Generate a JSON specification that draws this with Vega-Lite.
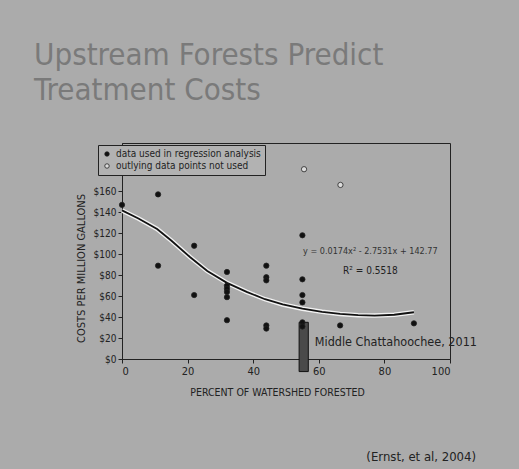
{
  "$schema": "https://vega.github.io/schema/vega-lite/v6.json",
  "autosize": {"type": "none"},
  "width": 328,
  "height": 216,
  "padding": {"left": 122, "top": 143, "right": 69, "bottom": 110},
  "background": "#ababab",
  "title": {
    "text": ["Upstream Forests Predict", "Treatment Costs"],
    "anchor": "start",
    "frame": "group",
    "font": "DejaVu Sans Condensed, Roboto, sans-serif",
    "fontSize": 31,
    "lineHeight": 35,
    "fontWeight": "normal",
    "color": "#7a7a7a",
    "dx": -88,
    "dy": 2,
    "offset": 38
  },
  "config": {
    "view": {"stroke": "#222", "strokeWidth": 1},
    "font": "DejaVu Sans Condensed, Roboto, sans-serif",
    "axis": {
      "grid": false,
      "domainColor": "#222",
      "tickColor": "#222",
      "tickSize": 4,
      "labelColor": "#222",
      "titleColor": "#222",
      "labelFont": "DejaVu Sans Condensed, Roboto, sans-serif",
      "titleFont": "DejaVu Sans Condensed, Roboto, sans-serif"
    },
    "legend": {
      "labelFont": "DejaVu Sans Condensed, Roboto, sans-serif"
    }
  },
  "datasets": {
    "points": [
      {"forested": 0, "cost": 147, "type": "data used in regression analysis"},
      {"forested": 11, "cost": 157, "type": "data used in regression analysis"},
      {"forested": 11, "cost": 89, "type": "data used in regression analysis"},
      {"forested": 22, "cost": 108, "type": "data used in regression analysis"},
      {"forested": 22, "cost": 61, "type": "data used in regression analysis"},
      {"forested": 32, "cost": 83, "type": "data used in regression analysis"},
      {"forested": 32, "cost": 70, "type": "data used in regression analysis"},
      {"forested": 32, "cost": 67, "type": "data used in regression analysis"},
      {"forested": 32, "cost": 64, "type": "data used in regression analysis"},
      {"forested": 32, "cost": 59, "type": "data used in regression analysis"},
      {"forested": 32, "cost": 37, "type": "data used in regression analysis"},
      {"forested": 44, "cost": 89, "type": "data used in regression analysis"},
      {"forested": 44, "cost": 78, "type": "data used in regression analysis"},
      {"forested": 44, "cost": 75, "type": "data used in regression analysis"},
      {"forested": 44, "cost": 32, "type": "data used in regression analysis"},
      {"forested": 44, "cost": 29, "type": "data used in regression analysis"},
      {"forested": 55, "cost": 118, "type": "data used in regression analysis"},
      {"forested": 55, "cost": 76, "type": "data used in regression analysis"},
      {"forested": 55, "cost": 61, "type": "data used in regression analysis"},
      {"forested": 55, "cost": 54, "type": "data used in regression analysis"},
      {"forested": 55, "cost": 35, "type": "data used in regression analysis"},
      {"forested": 55, "cost": 31, "type": "data used in regression analysis"},
      {"forested": 66.5, "cost": 32, "type": "data used in regression analysis"},
      {"forested": 89, "cost": 34, "type": "data used in regression analysis"},
      {"forested": 55.5, "cost": 181, "type": "outlying data points not used"},
      {"forested": 66.6, "cost": 166, "type": "outlying data points not used"}
    ],
    "curve": [
      {"forested": 0, "cost": 141.7},
      {"forested": 5, "cost": 134},
      {"forested": 10.7, "cost": 124},
      {"forested": 15, "cost": 113},
      {"forested": 20.8, "cost": 97},
      {"forested": 26, "cost": 84},
      {"forested": 32, "cost": 72.6},
      {"forested": 38, "cost": 64},
      {"forested": 43.6, "cost": 57},
      {"forested": 49, "cost": 52},
      {"forested": 55, "cost": 48},
      {"forested": 61, "cost": 45},
      {"forested": 66.5, "cost": 43},
      {"forested": 72, "cost": 41.8},
      {"forested": 77, "cost": 41.4},
      {"forested": 83, "cost": 42.2},
      {"forested": 89, "cost": 44.6}
    ],
    "bar": [
      {"from": 54, "to": 56.8, "low": -12, "high": 35}
    ],
    "notes": [
      {"kind": "site", "forested": 58.8, "cost": 12.4, "label": "Middle Chattahoochee, 2011"},
      {"kind": "eq", "forested": 55.2, "cost": 100, "label": "y = 0.0174x² - 2.7531x + 142.77"},
      {"kind": "r2", "forested": 67.4, "cost": 81, "label": "R² = 0.5518"},
      {"kind": "cite", "forested": 74.5, "cost": -97, "label": "(Ernst, et al, 2004)"}
    ]
  },
  "encoding": {
    "x": {
      "field": "forested",
      "type": "quantitative",
      "scale": {"domain": [0, 100], "nice": false},
      "axis": {
        "values": [0, 20, 40, 60, 80, 100],
        "title": "PERCENT OF WATERSHED FORESTED",
        "titleFontSize": 10.5,
        "titleFontWeight": "normal",
        "labelFontSize": 11,
        "titlePadding": 11,
        "titleX": 155
      }
    },
    "y": {
      "field": "cost",
      "type": "quantitative",
      "scale": {"domain": [0, 206], "nice": false},
      "axis": {
        "values": [0, 20, 40, 60, 80, 100, 120, 140, 160],
        "labelExpr": "'$' + datum.value",
        "title": "COSTS PER MILLION GALLONS",
        "titleFontSize": 11,
        "titleFontWeight": "normal",
        "labelFontSize": 10,
        "titlePadding": 7,
        "titleY": 125
      }
    }
  },
  "layer": [
    {
      "data": {"name": "curve"},
      "mark": {"type": "line", "color": "#f2f2f2", "strokeWidth": 4.5},
      "encoding": {}
    },
    {
      "data": {"name": "curve"},
      "mark": {"type": "line", "color": "#111", "strokeWidth": 1.8},
      "encoding": {}
    },
    {
      "data": {"name": "bar"},
      "mark": {"type": "rect", "fill": "#4a4a4a", "stroke": "#111", "strokeWidth": 1},
      "encoding": {
        "x": {"field": "from", "type": "quantitative"},
        "x2": {"field": "to"},
        "y": {"field": "low", "type": "quantitative"},
        "y2": {"field": "high"}
      }
    },
    {
      "data": {"name": "points"},
      "mark": {"type": "point", "shape": "circle", "filled": true, "size": 28, "stroke": "#222", "strokeWidth": 0.8, "opacity": 1},
      "encoding": {
        "fill": {
          "field": "type",
          "type": "nominal",
          "scale": {"domain": ["data used in regression analysis", "outlying data points not used"], "range": ["#111111", "#dcdcdc"]},
          "legend": {
            "title": null,
            "orient": "none",
            "legendX": -24,
            "legendY": 2,
            "strokeColor": "#222",
            "fillColor": "#b2b2b2",
            "padding": 4,
            "labelFontSize": 10,
            "labelColor": "#222",
            "symbolSize": 20,
            "symbolStrokeColor": "#222",
            "symbolStrokeWidth": 0.8,
            "rowPadding": 2
          }
        }
      }
    },
    {
      "data": {"name": "notes"},
      "transform": [{"filter": "datum.kind === 'site'"}],
      "mark": {"type": "text", "align": "left", "baseline": "alphabetic", "fontSize": 12.5, "color": "#222"},
      "encoding": {"text": {"field": "label"}}
    },
    {
      "data": {"name": "notes"},
      "transform": [{"filter": "datum.kind === 'eq'"}],
      "mark": {"type": "text", "align": "left", "baseline": "alphabetic", "fontSize": 9, "color": "#333"},
      "encoding": {"text": {"field": "label"}}
    },
    {
      "data": {"name": "notes"},
      "transform": [{"filter": "datum.kind === 'r2'"}],
      "mark": {"type": "text", "align": "left", "baseline": "alphabetic", "fontSize": 10, "color": "#222"},
      "encoding": {"text": {"field": "label"}}
    },
    {
      "data": {"name": "notes"},
      "transform": [{"filter": "datum.kind === 'cite'"}],
      "mark": {"type": "text", "align": "left", "baseline": "alphabetic", "fontSize": 13, "color": "#222"},
      "encoding": {"text": {"field": "label"}}
    }
  ]
}
